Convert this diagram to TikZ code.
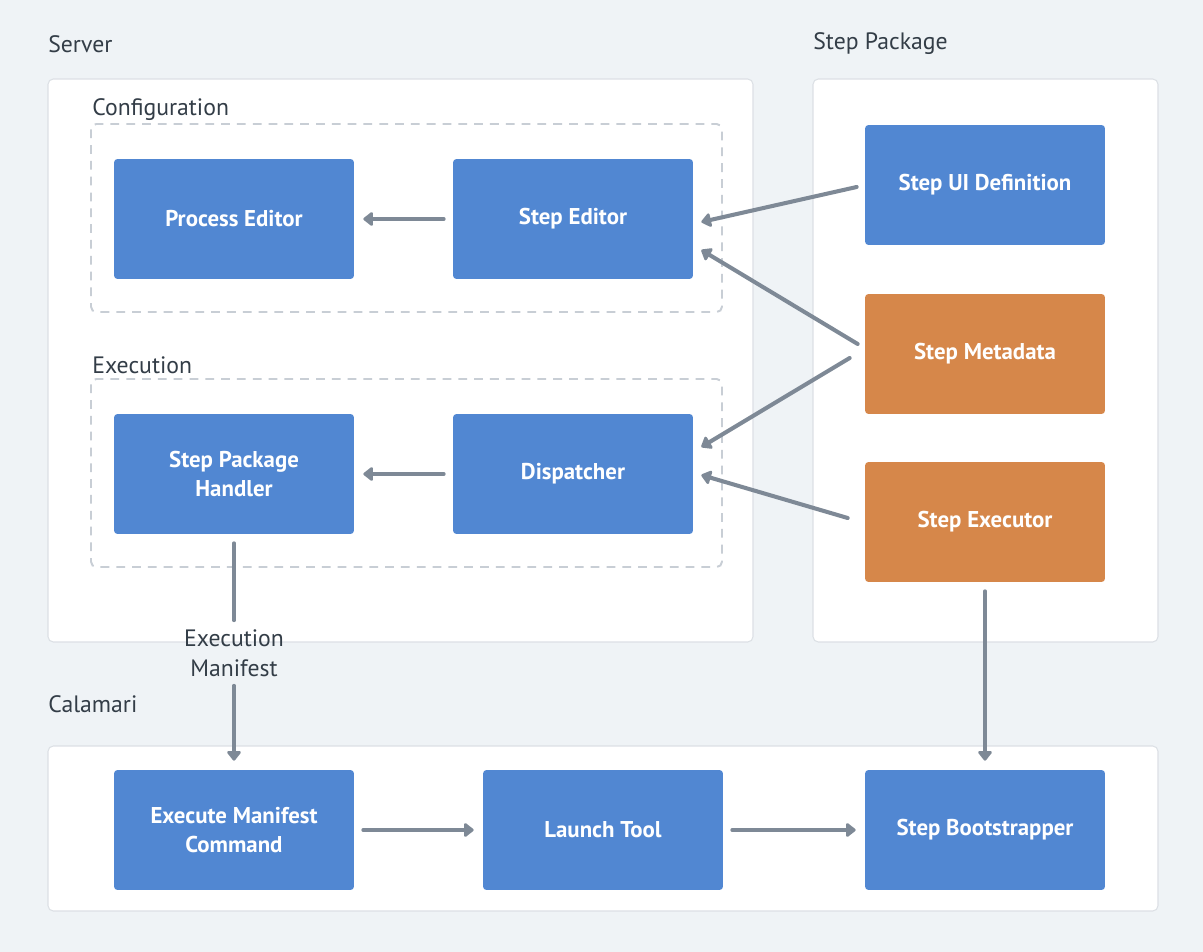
\documentclass[tikz,border=0pt]{standalone}
\usepackage{fontspec}
\setmainfont{PT Sans}
\usetikzlibrary{arrows.meta,calc}
\definecolor{bg}{HTML}{EFF3F6}
\definecolor{panelline}{HTML}{DCE0E5}
\definecolor{dashline}{HTML}{C8CED5}
\definecolor{stepblue}{HTML}{5187D2}
\definecolor{steporange}{HTML}{D6874A}
\definecolor{arrowgray}{HTML}{7E8996}
\definecolor{labeltext}{HTML}{333D47}
\tikzset{
  panel/.style={fill=white, draw=panelline, line width=0.6pt, rounded corners=3pt},
  group/.style={draw=dashline, line width=1.1pt, dash pattern=on 5pt off 4pt, rounded corners=3pt},
  title/.style={anchor=west, text=labeltext, inner sep=0pt, font=\fontsize{13.5}{17}\selectfont},
  box/.style={fill=stepblue, text=white, rounded corners=2pt, minimum width=4.8cm, minimum height=2.4cm,
    inner sep=0pt, align=center, font=\bfseries\fontsize{13}{17}\selectfont},
  metabox/.style={box, fill=steporange},
  line/.style={draw=arrowgray, line width=2.3pt, line cap=round, -{Triangle[length=6pt,width=9pt,round]}},
  flow/.style={line, shorten <=0.18cm, shorten >=0.18cm}
}
\begin{document}
\begin{tikzpicture}[x=0.02cm, y=-0.02cm]
  \fill[bg] (0,0) rectangle (1203,952);

  \draw[panel] (48,79) rectangle (753,642);
  \draw[panel] (813,79) rectangle (1158,642);
  \draw[panel] (48,746) rectangle (1158,911);
  \node[title] (server) at (48,44) {Server};
  \node[title] (package) at (813,44) {Step Package};
  \node[title] (calamari) at (48,704) {Calamari};

  \draw[group] (91,124) rectangle (722,312);
  \draw[group] (91,379) rectangle (722,567);
  \node[title] (config) at (92,110) {Configuration};
  \node[title] (execution) at (92,365) {Execution};

  \node[box] (proc) at (234,219) {Process Editor};
  \node[box] (edit) at (573,219) {Step Editor};
  \node[box] (hand) at (234,474) {Step Package\\Handler};
  \node[box] (disp) at (573,474) {Dispatcher};
  \node[box] (ui) at (985,185) {Step UI Definition};
  \node[metabox] (meta) at (985,354) {Step Metadata};
  \node[metabox] (exec) at (985,522) {Step Executor};
  \node[box] (emc) at (234,830) {Execute Manifest\\Command};
  \node[box] (launch) at (603,830) {Launch Tool};
  \node[box] (boot) at (985,830) {Step Bootstrapper};
  \node[title, anchor=center, align=center] (manifest) at (234,653) {Execution\\Manifest};

  \begin{scope}[line]
    \draw ($(ui.west)+(-8,2)$) -- ($(edit.east)+(8,3)$);
    \draw ($(meta.west)+(-7,-10)$) -- ($(edit.east)+(8,31)$);
    \draw ($(meta.west)+(-15,4)$) -- ($(disp.east)+(8,-27)$);
    \draw ($(exec.west)+(-17,-4)$) -- ($(disp.east)+(8,1)$);
  \end{scope}
  \begin{scope}[flow]
    \draw (edit) -- (proc);
    \draw (disp) -- (hand);
    \draw[-] (hand) -- (manifest);
    \draw (manifest) -- (emc);
    \draw (exec) -- (boot);
    \draw (emc) -- (launch);
    \draw (launch) -- (boot);
  \end{scope}
\end{tikzpicture}
\end{document}
